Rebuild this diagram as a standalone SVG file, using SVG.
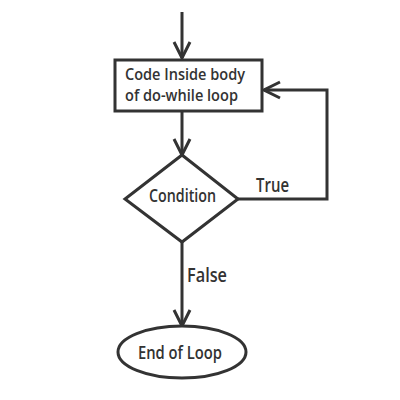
<svg xmlns="http://www.w3.org/2000/svg" width="400" height="400" viewBox="0 0 400 400">
<style>
.s{fill:none;stroke:#333;stroke-width:3}
.n{fill:#fff;stroke:#333;stroke-width:3}
text{font-family:"Open Sans","Noto Sans",sans-serif;font-weight:600;font-size:17.5px;fill:#333}
.b{font-size:16.5px}
.l{font-size:20px}
</style>
<defs>
<marker id="a" viewBox="0 0 20 20" refX="18" refY="10" markerWidth="20" markerHeight="20" markerUnits="userSpaceOnUse" orient="auto">
<path d="M2,2 L18,10 L2,18" fill="none" stroke="#333" stroke-width="3"/>
</marker>
</defs>
<rect width="400" height="400" fill="#fff"/>
<g id="connectors">
<line class="s" x1="182" y1="12" x2="182" y2="58" marker-end="url(#a)"/>
<line class="s" x1="182" y1="111" x2="182" y2="155" marker-end="url(#a)"/>
<polyline class="s" points="238,199 327,199 327,90 264,90" marker-end="url(#a)"/>
<line class="s" x1="182" y1="242" x2="182" y2="326" marker-end="url(#a)"/>
<text class="l" x="256" y="192" textLength="33" lengthAdjust="spacingAndGlyphs">True</text>
<text class="l" x="187" y="282" textLength="40" lengthAdjust="spacingAndGlyphs">False</text>
</g>
<g id="body">
<rect class="n" x="115" y="60" width="147" height="51"/>
<text class="b" x="125" y="80" textLength="120" lengthAdjust="spacingAndGlyphs">Code Inside body</text>
<text class="b" x="125" y="101" textLength="113" lengthAdjust="spacingAndGlyphs">of do-while loop</text>
</g>
<g id="condition">
<polygon class="n" points="182,155 238,199 182,242 125,199"/>
<text x="149" y="202" font-size="18.5" textLength="67" lengthAdjust="spacingAndGlyphs">Condition</text>
</g>
<g id="end">
<ellipse class="n" cx="182" cy="352" rx="64" ry="26"/>
<text x="138" y="359" textLength="84" lengthAdjust="spacingAndGlyphs">End of Loop</text>
</g>
</svg>
